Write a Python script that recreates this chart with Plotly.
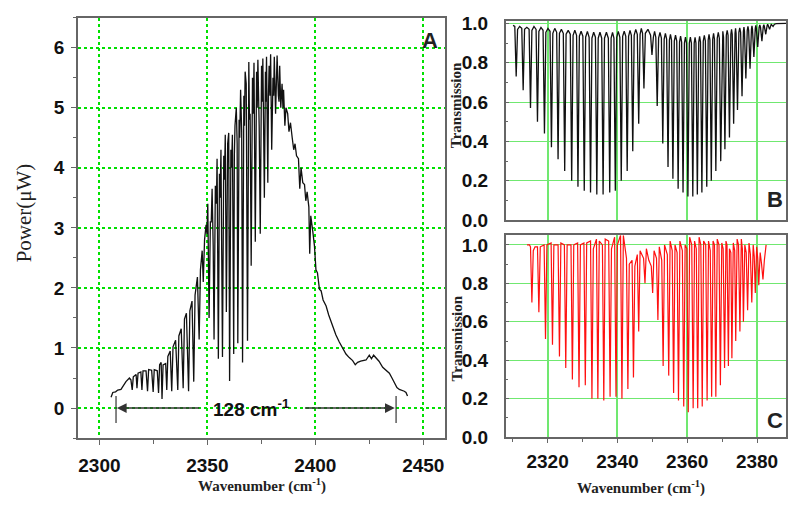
import plotly.graph_objects as go

# ---------------- Panel A : power spectrum ----------------
a_wavenumber = [2305.4, 2306.2, 2307.5, 2308.5, 2310.0, 2310.8, 2312.3, 2313.9, 2314.6, 2315.2,
                2315.7, 2317.0, 2317.4, 2317.9, 2319.2, 2319.7, 2320.2, 2321.6, 2322.3, 2322.8,
                2324.2, 2324.9, 2325.4, 2326.8, 2327.4, 2327.9, 2328.6, 2329.0, 2329.5, 2330.7,
                2331.2, 2331.7, 2332.8, 2333.5, 2334.1, 2335.3, 2336.3, 2336.8, 2337.9, 2338.8,
                2339.4, 2340.3, 2341.3, 2341.9, 2342.9, 2343.7, 2344.3, 2345.4, 2346.2, 2346.8,
                2347.6, 2348.1, 2348.7, 2349.4, 2350.2, 2350.8, 2351.4, 2352.2, 2352.7, 2353.1,
                2353.7, 2354.5, 2355.1, 2355.6, 2356.3, 2357.0, 2357.6, 2358.3, 2358.8, 2359.4,
                2359.9, 2360.3, 2360.9, 2361.6, 2362.2, 2362.8, 2363.4, 2364.1, 2364.7, 2365.4,
                2366.3, 2366.9, 2367.5, 2368.0, 2368.6, 2369.2, 2369.8, 2370.3, 2370.9, 2371.6,
                2372.2, 2372.8, 2373.4, 2374.0, 2374.5, 2375.1, 2375.7, 2376.4, 2376.9, 2377.4,
                2378.0, 2378.6, 2379.3, 2379.8, 2380.4, 2381.0, 2381.6, 2382.3, 2382.9, 2383.5,
                2384.0, 2384.6, 2385.3, 2385.9, 2386.4, 2387.2, 2387.8, 2388.5, 2389.3, 2390.0,
                2390.6, 2391.3, 2392.2, 2392.8, 2393.4, 2394.2, 2395.0, 2395.6, 2396.2, 2397.0,
                2397.4, 2397.9, 2398.8, 2399.6, 2400.3, 2401.0, 2401.9, 2402.7, 2403.6, 2405.0,
                2406.2, 2407.2, 2408.0, 2409.5, 2411.1, 2412.5, 2414.2, 2415.7, 2417.3, 2418.5,
                2419.6, 2421.0, 2421.9, 2423.5, 2425.0, 2426.0, 2427.0, 2428.1, 2429.5, 2431.2,
                2432.8, 2434.3, 2435.5, 2436.6, 2437.8, 2438.9, 2440.0, 2441.2, 2442.0, 2442.7]
a_power = [0.18, 0.26, 0.27, 0.30, 0.31, 0.36, 0.44, 0.50, 0.47, 0.30,
           0.52, 0.56, 0.33, 0.58, 0.60, 0.30, 0.62, 0.62, 0.28, 0.64,
           0.63, 0.27, 0.64, 0.62, 0.25, 0.72, 0.76, 0.15, 0.72, 0.74,
           0.30, 0.86, 0.95, 0.28, 1.02, 1.13, 0.30, 1.20, 1.32, 0.33,
           1.48, 1.58, 0.28, 1.62, 1.78, 0.44, 1.88, 2.18, 1.14, 2.30,
           2.62, 2.10, 2.80, 3.05, 3.40, 1.50, 3.10, 3.65, 2.70, 1.14,
           3.70, 4.15, 0.82, 3.90, 4.30, 0.85, 4.20, 4.55, 1.60, 4.40,
           4.58, 0.45, 4.30, 4.55, 0.90, 4.70, 5.00, 1.08, 4.80, 5.30,
           0.76, 5.20, 5.60, 5.40, 1.12, 5.76, 4.90, 2.37, 5.50, 5.75,
           2.77, 5.60, 5.80, 4.70, 2.90, 5.70, 5.82, 3.50, 5.60, 5.85,
           3.75, 5.70, 5.89, 4.30, 5.50, 5.85, 4.90, 5.87, 5.20, 5.70,
           5.00, 5.40, 5.30, 4.70, 5.00, 4.90, 4.60, 4.75, 4.50, 4.30,
           4.40, 4.20, 4.15, 3.65, 4.00, 3.75, 3.72, 3.45, 3.60, 3.35,
           2.57, 3.20, 2.95, 2.70, 2.30, 2.25, 1.98, 1.95, 1.80, 1.70,
           1.55, 1.45, 1.38, 1.22, 1.10, 1.00, 0.90, 0.84, 0.79, 0.72,
           0.76, 0.78, 0.79, 0.80, 0.88, 0.82, 0.88, 0.84, 0.78, 0.68,
           0.62, 0.58, 0.50, 0.42, 0.34, 0.31, 0.30, 0.28, 0.26, 0.20]
# weaker lines inside the dense band near the maximum
a_band_x = [2349.8, 2351.8, 2354.2, 2355.9, 2357.9, 2359.1, 2361.2, 2362.5, 2363.8, 2365.0,
            2365.9, 2367.2, 2369.5, 2371.3, 2373.1, 2375.4, 2377.1, 2378.3, 2379.0, 2380.7,
            2381.9, 2383.2, 2385.0]
a_band_y = [2.9, 3.1, 3.4, 3.5, 3.8, 3.9, 4.0, 4.2, 4.4, 4.5,
            4.6, 4.7, 4.8, 4.9, 5.0, 5.1, 5.1, 5.2, 5.2, 5.2,
            5.2, 5.1, 5.0]

span_start = 2307.7
span_end = 2437.4
span_label = "<b>128 cm<sup>-1</sup></b>"

# ---------------- Panel B : calculated transmission ----------------
b_dip_x = [2311.0, 2313.0, 2315.1, 2317.1, 2319.1, 2321.1, 2323.0, 2324.9, 2326.9, 2328.7,
           2330.5, 2332.3, 2334.1, 2335.9, 2337.8, 2339.4, 2341.1, 2342.8, 2344.4, 2346.1,
           2347.6, 2349.9, 2351.4, 2353.0, 2354.5, 2355.9, 2357.4, 2358.8, 2360.2, 2361.6,
           2362.9, 2364.2, 2365.6, 2366.9, 2368.2, 2369.6, 2370.8, 2372.1, 2373.3, 2374.4,
           2375.7, 2376.8, 2378.0, 2379.1, 2380.2, 2381.4, 2382.5, 2383.6, 2384.6]
b_dip_y = [0.73, 0.66, 0.57, 0.50, 0.44, 0.37, 0.31, 0.25, 0.20, 0.17,
           0.15, 0.14, 0.13, 0.13, 0.14, 0.15, 0.20, 0.25, 0.35, 0.49,
           0.67, 0.84, 0.58, 0.39, 0.27, 0.21, 0.16, 0.14, 0.12, 0.12,
           0.13, 0.14, 0.17, 0.20, 0.25, 0.30, 0.36, 0.42, 0.49, 0.56,
           0.63, 0.72, 0.77, 0.83, 0.88, 0.91, 0.945, 0.97, 0.985]
# upper envelope between the lines (readings after a line, mid-gap, and before the next line)
b_top_x = [2310.1, 2310.6,
           2311.4, 2312.0, 2312.6, 2313.4, 2314.05, 2314.7, 2315.5, 2316.1, 2316.7,
           2317.5, 2318.1, 2318.7, 2319.5, 2320.1, 2320.7, 2321.5, 2322.05, 2322.6,
           2323.4, 2323.95, 2324.5, 2325.3, 2325.9, 2326.5, 2327.3, 2327.8, 2328.3,
           2329.1, 2329.6, 2330.1, 2330.9, 2331.4, 2331.9, 2332.7, 2333.2, 2333.7,
           2334.5, 2335.0, 2335.5, 2336.3, 2336.85, 2337.4, 2338.2, 2338.6, 2339.0,
           2339.8, 2340.25, 2340.7, 2341.5, 2341.95, 2342.4, 2343.2, 2343.6, 2344.0,
           2344.8, 2345.25, 2345.7, 2346.5, 2346.85, 2347.2, 2348.0, 2348.75, 2349.5,
           2350.3, 2350.65, 2351.0, 2351.8, 2352.2, 2352.6, 2353.4, 2353.75, 2354.1,
           2354.9, 2355.2, 2355.5, 2356.3, 2356.65, 2357.0, 2357.8, 2358.1, 2358.4,
           2359.2, 2359.5, 2359.8, 2360.6, 2360.9, 2361.2, 2362.0, 2362.25, 2362.5,
           2363.3, 2363.55, 2363.8, 2364.6, 2364.9, 2365.2, 2366.0, 2366.25, 2366.5,
           2367.3, 2367.55, 2367.8, 2368.6, 2368.9, 2369.2, 2370.0, 2370.2, 2370.4,
           2371.2, 2371.45, 2371.7, 2372.5, 2372.7, 2372.9, 2373.7, 2373.85, 2374.0,
           2374.8, 2375.05, 2375.3, 2376.1, 2376.25, 2376.4, 2377.2, 2377.4, 2377.6,
           2378.4, 2378.55, 2378.7, 2379.5, 2379.65, 2379.8, 2380.6, 2380.8, 2381.0,
           2381.8, 2381.95, 2382.1, 2382.9, 2383.05, 2383.2, 2384.0, 2384.1, 2384.2,
           2385.0, 2385.5, 2386.5, 2388.5]
b_top_y = [0.99, 0.985,
           0.97, 0.985, 0.975, 0.97, 0.98, 0.97, 0.965, 0.985, 0.97,
           0.96, 0.98, 0.965, 0.955, 0.975, 0.96, 0.95, 0.975, 0.955,
           0.95, 0.97, 0.95, 0.945, 0.965, 0.945, 0.94, 0.965, 0.94,
           0.935, 0.96, 0.935, 0.93, 0.96, 0.93, 0.925, 0.955, 0.93,
           0.925, 0.955, 0.925, 0.925, 0.955, 0.925, 0.925, 0.955, 0.925,
           0.93, 0.96, 0.93, 0.935, 0.96, 0.935, 0.935, 0.965, 0.94,
           0.94, 0.97, 0.945, 0.945, 0.975, 0.95, 0.95, 0.97, 0.94,
           0.93, 0.96, 0.93, 0.925, 0.955, 0.925, 0.92, 0.95, 0.92,
           0.915, 0.945, 0.915, 0.91, 0.94, 0.91, 0.905, 0.935, 0.905,
           0.90, 0.93, 0.90, 0.90, 0.93, 0.90, 0.90, 0.93, 0.90,
           0.905, 0.935, 0.905, 0.91, 0.94, 0.91, 0.915, 0.945, 0.915,
           0.92, 0.95, 0.92, 0.925, 0.955, 0.925, 0.93, 0.96, 0.93,
           0.94, 0.965, 0.94, 0.945, 0.97, 0.945, 0.95, 0.975, 0.95,
           0.955, 0.978, 0.955, 0.96, 0.982, 0.96, 0.965, 0.985, 0.965,
           0.97, 0.988, 0.97, 0.975, 0.99, 0.975, 0.98, 0.992, 0.98,
           0.985, 0.994, 0.985, 0.99, 0.996, 0.99, 0.993, 0.998, 0.993,
           0.996, 0.999, 1.0, 1.0]

# ---------------- Panel C : measured transmission ----------------
c_dip_x = [2315.5, 2317.5, 2319.4, 2321.4, 2323.4, 2325.2, 2327.1, 2329.0, 2330.8, 2332.7,
           2334.4, 2336.1, 2337.9, 2339.6, 2341.3, 2343.0, 2344.6, 2346.1, 2347.9, 2350.1,
           2351.6, 2353.1, 2354.7, 2356.1, 2357.5, 2359.0, 2360.3, 2361.7, 2363.0, 2364.3,
           2365.7, 2367.0, 2368.2, 2369.5, 2370.7, 2371.8, 2372.8, 2373.9, 2375.1, 2376.1,
           2377.3, 2378.5, 2379.5, 2380.5, 2381.7]
c_dip_y = [0.70, 0.65, 0.51, 0.48, 0.42, 0.36, 0.30, 0.26, 0.27, 0.20,
           0.20, 0.19, 0.21, 0.21, 0.20, 0.25, 0.31, 0.55, 0.80, 0.75,
           0.61, 0.37, 0.32, 0.23, 0.19, 0.16, 0.13, 0.15, 0.15, 0.16,
           0.19, 0.21, 0.21, 0.27, 0.36, 0.37, 0.41, 0.50, 0.55, 0.60,
           0.66, 0.70, 0.75, 0.79, 0.82]
c_top_x = [2314.1, 2314.8, 2315.1, 2315.9, 2316.4, 2317.1, 2317.9, 2319.0, 2319.8, 2321.0,
           2321.8, 2323.0, 2323.8, 2324.8, 2325.6, 2326.7, 2327.5, 2328.6, 2329.4, 2330.4,
           2331.2, 2332.3, 2333.1, 2334.0, 2334.8, 2335.7, 2336.5, 2337.5, 2338.3, 2339.2,
           2340.0, 2340.9, 2341.7, 2342.6, 2343.4, 2344.2, 2345.0, 2345.7, 2346.5, 2347.5,
           2348.3, 2349.0, 2349.7, 2350.5, 2351.2, 2352.0, 2352.7, 2353.5, 2354.3, 2355.1,
           2355.7, 2356.5, 2357.1, 2357.9, 2358.6, 2359.4, 2359.9, 2360.7, 2361.3, 2362.1,
           2362.6, 2363.4, 2363.9, 2364.7, 2365.3, 2366.1, 2366.6, 2367.4, 2367.8, 2368.6,
           2369.1, 2369.9, 2370.3, 2371.1, 2371.4, 2372.1, 2372.5, 2373.2, 2373.6, 2374.3,
           2374.7, 2375.5, 2375.8, 2376.5, 2376.9, 2377.7, 2378.1, 2378.9, 2379.2, 2379.9,
           2380.2, 2380.9, 2381.3, 2382.1, 2382.6]
c_top_y = [1.0, 1.0, 0.99, 0.97, 0.99, 0.99, 0.99, 1.0, 1.0, 1.01,
           1.0, 1.0, 1.01, 1.0, 1.0, 1.0, 1.0, 1.01, 1.0, 1.01,
           1.01, 1.02, 0.98, 1.03, 1.02, 1.0, 1.03, 1.02, 0.98, 1.04,
           1.0, 1.05, 1.05, 0.93, 0.90, 0.92, 0.89, 0.95, 0.97, 0.93,
           0.98, 0.92, 0.89, 0.97, 0.93, 0.99, 0.92, 1.0, 0.95, 1.02,
           0.97, 1.0, 0.96, 1.02, 0.97, 1.0, 0.98, 1.04, 1.0, 1.02,
           0.98, 1.04, 1.0, 1.02, 1.0, 1.02, 0.97, 1.02, 1.0, 1.03,
           1.0, 1.01, 0.98, 1.02, 1.0, 0.98, 0.96, 1.01, 0.97, 1.03,
           1.0, 1.03, 0.98, 1.0, 0.96, 1.01, 0.95, 1.0, 0.94, 0.99,
           0.93, 0.96, 0.90, 0.92, 1.0]

a_xticks = [2300, 2350, 2400, 2450]
a_yticks = [0, 1, 2, 3, 4, 5, 6]
bc_xticks = [2320, 2340, 2360, 2380]
bc_yticks = [0.0, 0.2, 0.4, 0.6, 0.8, 1.0]


def merged(xs1, ys1, xs2, ys2):
    pts = sorted(zip(list(xs1) + list(xs2), list(ys1) + list(ys2)))
    return [p[0] for p in pts], [p[1] for p in pts]


def bold(vals, fmt):
    return ["<b>" + fmt.format(v) + "</b>" for v in vals]


ax_, ay_ = merged(a_wavenumber, a_power, a_band_x, a_band_y)
bx, by = merged(b_dip_x, b_dip_y, b_top_x, b_top_y)
cx, cy = merged(c_dip_x, c_dip_y, c_top_x, c_top_y)

W, H = 788, 506
fig = go.Figure()
fig.add_trace(go.Scatter(x=ax_, y=ay_, mode="lines",
                         line=dict(color="#111111", width=1.3), xaxis="x", yaxis="y"))
fig.add_trace(go.Scatter(x=bx, y=by, mode="lines",
                         line=dict(color="#111111", width=1.3), xaxis="x2", yaxis="y2"))
fig.add_trace(go.Scatter(x=cx, y=cy, mode="lines",
                         line=dict(color="#ff1010", width=1.2), xaxis="x3", yaxis="y3"))

tickf = dict(family="Liberation Sans, Arial", size=19, color="#111111", weight="bold")
axline = dict(showline=True, linecolor="#666666", linewidth=1.5, mirror=True, zeroline=False)
GA = "#00e000"   # dotted grid of panel A
GB = "#70e870"   # solid grid of panels B, C

fig.update_layout(
    width=W, height=H, margin=dict(l=0, r=0, t=0, b=0),
    paper_bgcolor="white", plot_bgcolor="white", showlegend=False,
    xaxis=dict(domain=[78 / W, 446 / W], range=[2290, 2460], tickvals=a_xticks,
               ticktext=bold(a_xticks, "{}"),
               showgrid=True, gridcolor=GA, griddash="dot", gridwidth=1.7,
               ticks="outside", ticklen=5, tickcolor="#666666", tickfont=tickf, ticklabelstandoff=4,
               minor=dict(tickvals=[2325, 2375, 2425], ticks="outside", ticklen=4,
                          tickcolor="#666666", showgrid=False),
               anchor="y", **axline),
    yaxis=dict(domain=[1 - 447 / H, 1 - 11 / H], range=[-0.5, 6.5], tickvals=a_yticks,
               ticktext=bold(a_yticks, "{}"),
               showgrid=True, gridcolor=GA, griddash="dot", gridwidth=1.5,
               ticks="outside", ticklen=5, tickcolor="#666666", tickfont=tickf, ticklabelstandoff=3,
               minor=dict(dtick=0.5, ticks="outside", ticklen=3, tickcolor="#666666", showgrid=False),
               anchor="x", **axline),
    xaxis2=dict(domain=[507 / W, 1.0], range=[2308, 2388.3], tickvals=bc_xticks,
                showticklabels=False, showgrid=True, gridcolor=GB, gridwidth=1.6,
                ticks="", anchor="y2", **axline),
    yaxis2=dict(domain=[1 - 221 / H, 1 - 14 / H], range=[0, 1.015], tickvals=bc_yticks,
                ticktext=bold(bc_yticks, "{:.1f}"),
                showgrid=True, gridcolor=GB, gridwidth=1,
                ticks="inside", ticklen=4, tickcolor="#666666", tickfont=tickf, ticklabelstandoff=12,
                minor=dict(dtick=0.1, tick0=0, ticks="inside", ticklen=3, tickcolor="#666666", showgrid=False),
                anchor="x2", **axline),
    xaxis3=dict(domain=[507 / W, 1.0], range=[2308, 2388.3], tickvals=bc_xticks,
                ticktext=bold(bc_xticks, "{}"),
                showgrid=True, gridcolor=GB, gridwidth=1.6,
                ticks="outside", ticklen=4, tickcolor="#666666", tickfont=tickf, ticklabelstandoff=2,
                minor=dict(tickvals=[2310, 2330, 2350, 2370], ticks="outside", ticklen=3,
                           tickcolor="#666666", showgrid=False),
                anchor="y3", **axline),
    yaxis3=dict(domain=[1 - 446 / H, 1 - 236.7 / H], range=[0, 1.05], tickvals=bc_yticks,
                ticktext=bold(bc_yticks, "{:.1f}"),
                showgrid=True, gridcolor=GB, gridwidth=1,
                ticks="inside", ticklen=4, tickcolor="#666666", tickfont=tickf, ticklabelstandoff=12,
                minor=dict(dtick=0.1, tick0=0, ticks="inside", ticklen=3, tickcolor="#666666", showgrid=False),
                anchor="x3", **axline),
)

serif = "Liberation Serif, Times New Roman, serif"
ann = []


def label(text, px, py, size, family, angle=0, bold_=False):
    t = "<b>" + text + "</b>" if bold_ else text
    ann.append(dict(text=t, x=px / W, y=1 - py / H, xref="paper", yref="paper",
                    xanchor="center", yanchor="middle", textangle=angle, showarrow=False,
                    font=dict(family=family, size=size, color="#222222")))


label("Power(\u03bcW)", 24, 213, 21, serif, -90)
label("Wavenumber (cm<sup>-1</sup>)", 263, 496, 15, serif, 0, True)
label("Transmission", 458, 102, 15, serif, -90, True)
label("Transmission", 458, 344, 15, serif, -90, True)
label("Wavenumber (cm<sup>-1</sup>)", 643, 498, 15, serif, 0, True)
label("A", 431, 35, 22, "Liberation Sans, Arial", 0, True)
label("B", 777, 200, 22, "Liberation Sans, Arial", 0, True)
label("C", 777, 429, 22, "Liberation Sans, Arial", 0, True)

# 128 cm-1 span
ann.append(dict(text=span_label, x=2370.5, y=0, xref="x", yref="y", xanchor="center", yanchor="middle",
                showarrow=False,
                font=dict(family="Liberation Sans, Arial", size=19, color="#111111")))
ann.append(dict(x=span_start + 0.4, y=0, ax=2347, ay=0, xref="x", yref="y", axref="x", ayref="y",
                showarrow=True, arrowhead=2, arrowsize=1.3, arrowwidth=1.5, arrowcolor="#333333", text=""))
ann.append(dict(x=span_end - 0.6, y=0, ax=2394.5, ay=0, xref="x", yref="y", axref="x", ayref="y",
                showarrow=True, arrowhead=2, arrowsize=1.3, arrowwidth=1.5, arrowcolor="#333333", text=""))
fig.update_layout(annotations=ann)

for xv in (span_start, span_end):
    fig.add_shape(type="line", x0=xv, x1=xv, y0=-0.25, y1=0.2, xref="x", yref="y",
                  line=dict(color="#333333", width=1.2))

fig.write_html("out.html")
